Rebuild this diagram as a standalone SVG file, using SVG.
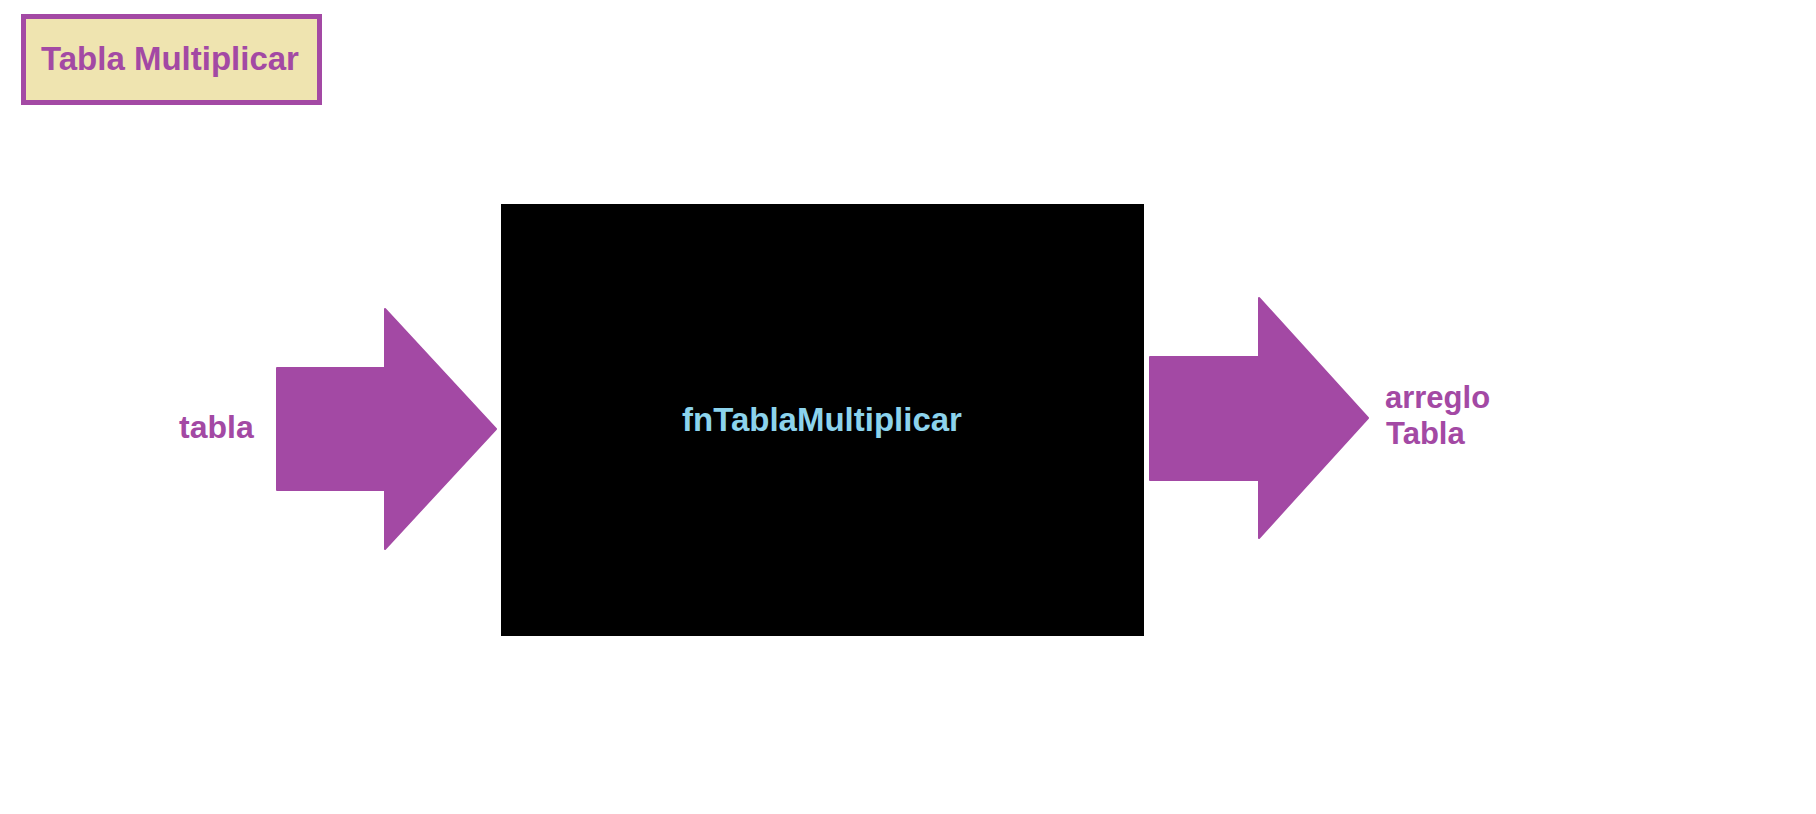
<svg xmlns="http://www.w3.org/2000/svg" width="1816" height="814" viewBox="0 0 1816 814">
<style>
.lbl{font-family:"Liberation Sans",Arial,sans-serif;font-weight:bold;fill:#A349A4}
.arrow{fill:#A349A4;stroke:#A349A4;stroke-width:2;stroke-linejoin:round}
</style>
<rect width="1816" height="814" fill="#ffffff"/>
<g id="title">
<rect x="23.5" y="16.5" width="296" height="86" fill="#EFE4B0" stroke="#A349A4" stroke-width="5"/>
<text class="lbl" x="170" y="70" font-size="33" text-anchor="middle">Tabla Multiplicar</text>
</g>
<g id="fn">
<rect x="501" y="204" width="643" height="432" fill="#000000"/>
<text x="822" y="431" font-family="'Liberation Sans',Arial,sans-serif" font-weight="bold" font-size="33" fill="#8CD3EC" text-anchor="middle">fnTablaMultiplicar</text>
</g>
<g id="input-label">
<text class="lbl" x="179" y="438" font-size="32">tabla</text>
</g>
<g id="output-label">
<text class="lbl" x="1385" y="408" font-size="31">arreglo</text>
<text class="lbl" x="1386" y="444" font-size="31">Tabla</text>
</g>
<g id="connectors">
<polygon class="arrow" points="277,368 385,368 385,309 496,429 385,549 385,490 277,490"/>
<polygon class="arrow" points="1150,357 1259,357 1259,298 1368,418 1259,538 1259,480 1150,480"/>
</g>
</svg>
